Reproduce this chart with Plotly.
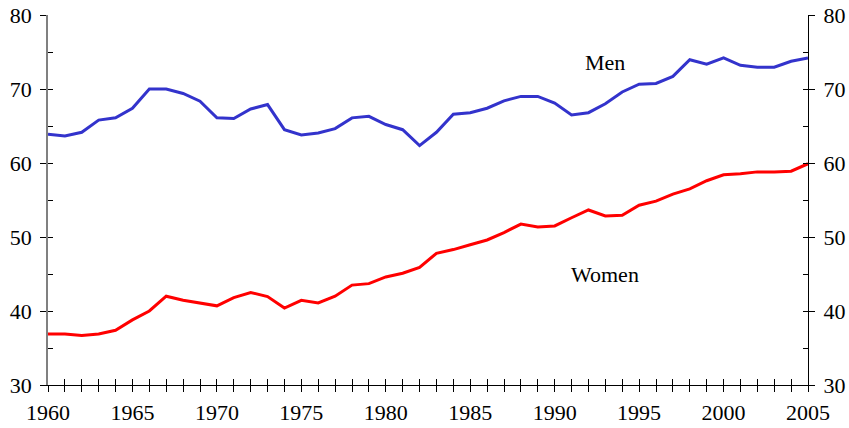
import plotly.graph_objects as go

years = list(range(1960, 2006))
men = [63.9, 63.65, 64.15, 65.8, 66.1, 67.4, 70.0, 70.0, 69.4, 68.35,
       66.1, 66.0, 67.3, 67.9, 64.5, 63.8, 64.05, 64.65, 66.1, 66.3,
       65.2, 64.5, 62.35, 64.15, 66.6, 66.8, 67.4, 68.4, 69.0, 69.0,
       68.1, 66.5, 66.8, 68.0, 69.6, 70.65, 70.75, 71.7, 73.95, 73.35,
       74.2, 73.2, 72.95, 72.95, 73.75, 74.2]
women = [36.9, 36.9, 36.7, 36.9, 37.4, 38.8, 40.0, 42.0, 41.45, 41.1,
         40.7, 41.8, 42.5, 41.95, 40.4, 41.45, 41.1, 42.0, 43.5, 43.7,
         44.6, 45.1, 45.9, 47.8, 48.3, 48.96, 49.6, 50.6, 51.75, 51.35,
         51.5, 52.6, 53.65, 52.85, 52.95, 54.3, 54.85, 55.8, 56.5, 57.6,
         58.4, 58.55, 58.8, 58.8, 58.9, 59.9]
x_tick_labels = [str(y) if y % 5 == 0 else "" for y in years]
y_tick_vals = [30, 40, 50, 60, 70, 80]
series_labels = ["Men", "Women"]
label_pos = [(1993, 73.6), (1993, 45.0)]

FONT = dict(family="Liberation Serif, Times New Roman, serif", size=22, color="black")

fig = go.Figure()
fig.add_trace(go.Scatter(x=years, y=men, mode="lines",
                         line=dict(color="#3333CC", width=3), showlegend=False,
                         xaxis="x", yaxis="y"))
fig.add_trace(go.Scatter(x=years, y=women, mode="lines",
                         line=dict(color="#FF0000", width=3), showlegend=False,
                         xaxis="x", yaxis="y"))

# invisible helper traces so that the overlaid tick axes get drawn
for xa, ya in [("x2", "y"), ("x", "y2"), ("x", "y3"), ("x", "y4")]:
    fig.add_trace(go.Scatter(x=[years[0]], y=[y_tick_vals[0]], mode="markers",
                             marker=dict(opacity=0), hoverinfo="skip",
                             showlegend=False, xaxis=xa, yaxis=ya))

for (lx, ly), txt in zip(label_pos, series_labels):
    fig.add_annotation(x=lx, y=ly, xref="x", yref="y", text=txt,
                       showarrow=False, font=FONT)

common_x = dict(range=[1960, 2005], tickmode="array", tickvals=years,
                showgrid=False, zeroline=False, tickcolor="black",
                tickwidth=1, ticklen=6, automargin=False)
common_y = dict(range=[30, 80], showgrid=False, zeroline=False,
                tickcolor="black", tickwidth=1, automargin=False)

fig.update_layout(
    width=849, height=428,
    margin=dict(l=48, r=41, t=15, b=43, autoexpand=False),
    paper_bgcolor="white", plot_bgcolor="white",
    font=FONT,
    xaxis=dict(**common_x, ticktext=x_tick_labels, ticks="outside",
               showline=True, linecolor="black", linewidth=1,
               tickfont=FONT, anchor="y", ticklabelstandoff=2),
    xaxis2=dict(**common_x, overlaying="x", side="bottom", anchor="y",
                ticks="inside", showticklabels=False, showline=False),
    yaxis=dict(**common_y, tickmode="array", tickvals=y_tick_vals,
               ticks="outside", ticklen=6, showline=True,
               linecolor="#808080", linewidth=1.5, tickfont=FONT,
               side="left", anchor="x", ticklabelstandoff=4),
    yaxis2=dict(**common_y, tickmode="array", tickvals=y_tick_vals,
                ticks="outside", ticklen=6, showline=True,
                linecolor="black", linewidth=1, tickfont=FONT,
                side="right", overlaying="y", anchor="x", ticklabelstandoff=4),
    yaxis3=dict(**common_y, dtick=5, tick0=30, ticks="inside", ticklen=5,
                showticklabels=False, showline=False,
                side="left", overlaying="y", anchor="x"),
    yaxis4=dict(**common_y, dtick=5, tick0=30, ticks="inside", ticklen=5,
                showticklabels=False, showline=False,
                side="right", overlaying="y", anchor="x"),
)

fig.write_html("out.html", config={"displayModeBar": False},
               post_script="document.body.style.margin='0';document.body.style.overflow='hidden';")
